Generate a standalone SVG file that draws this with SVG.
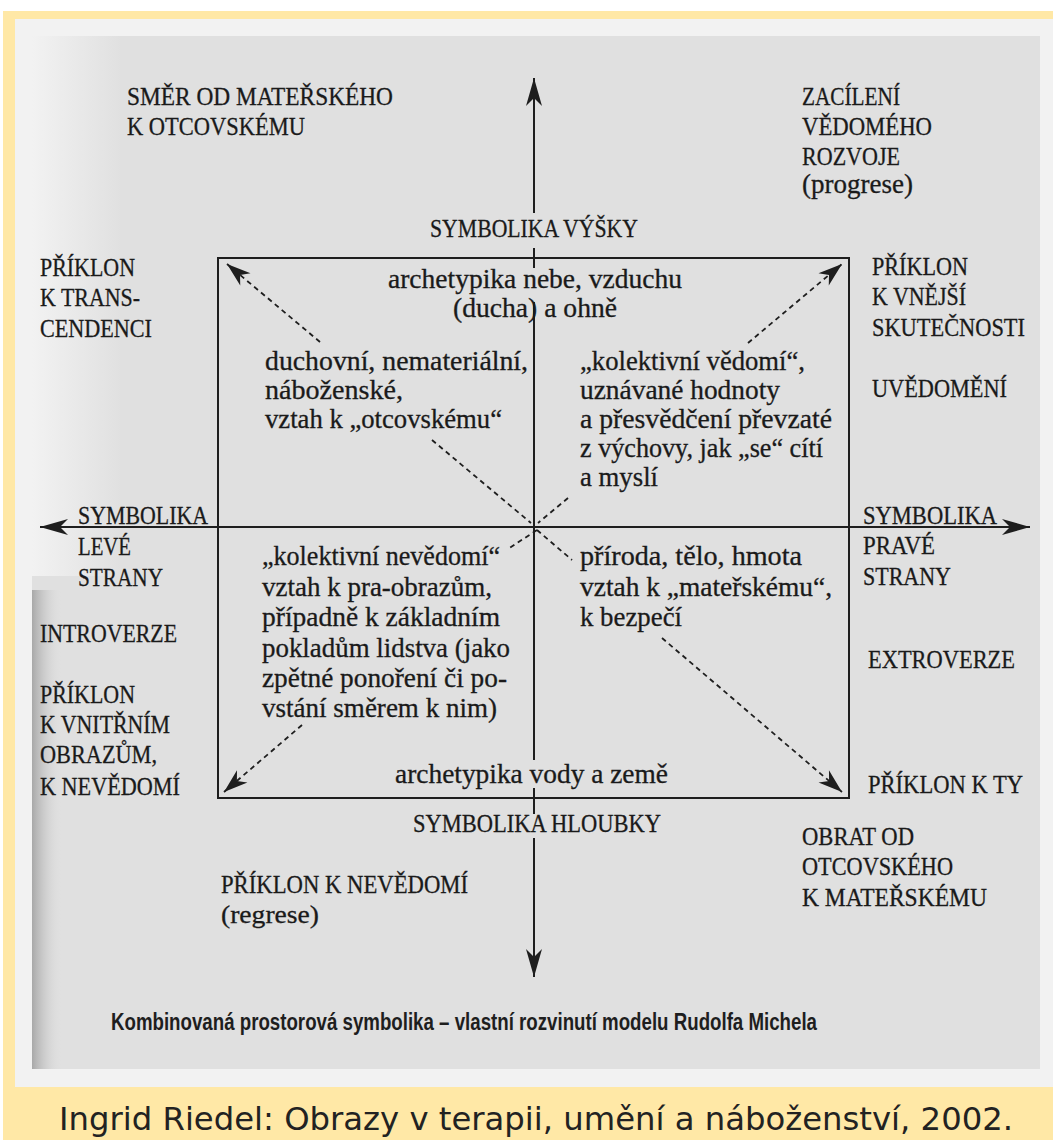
<svg xmlns="http://www.w3.org/2000/svg" width="1053" height="1140" viewBox="0 0 1053 1140">
<style>
.s{font-family:"Liberation Serif","DejaVu Serif",serif;fill:#1a1a1a;font-size:26px;stroke:#1a1a1a;stroke-width:0.3}
.l{font-size:27px}
.ax{stroke:#1e1e1e;stroke-width:2;fill:none}
.dg{stroke:#1e1e1e;stroke-width:1.8;fill:none;stroke-dasharray:5 4}
.box{stroke:#1e1e1e;stroke-width:2;fill:none}
</style>
<defs>
<marker id="ah" markerUnits="userSpaceOnUse" orient="auto" refX="0" refY="0" markerWidth="40" markerHeight="40" overflow="visible">
<path d="M0,0 L-28,-8 L-20,0 L-28,8 Z" fill="#1e1e1e"/>
</marker>
<marker id="dh" markerUnits="userSpaceOnUse" orient="auto" refX="0" refY="0" markerWidth="40" markerHeight="40" overflow="visible">
<path d="M0,0 L-24,-8 L-17,0 L-24,8 Z" fill="#1e1e1e"/>
</marker>
<linearGradient id="sh" x1="0" y1="0" x2="1" y2="0">
<stop offset="0" stop-color="#9a9a9a" stop-opacity="0.8"/>
<stop offset="1" stop-color="#e0e0e0" stop-opacity="0"/>
</linearGradient>
<linearGradient id="hl" x1="0" y1="0" x2="1" y2="0">
<stop offset="0" stop-color="#f4f4f4" stop-opacity="0.9"/>
<stop offset="1" stop-color="#f4f4f4" stop-opacity="0"/>
</linearGradient>
</defs>
<rect x="0" y="0" width="1053" height="1140" fill="#ffffff"/>
<rect x="3" y="11" width="1050" height="1129" fill="#FFE8A6"/>
<rect x="15" y="19" width="1038" height="1068" fill="#F2F2F2"/>
<rect x="32" y="36" width="1008" height="1033" fill="#E0E0E0"/>
<rect x="32" y="36" width="90" height="540" fill="url(#hl)"/>
<rect x="32" y="590" width="30" height="479" fill="url(#sh)"/>

<g id="connectors">
<line class="ax" x1="534" y1="213" x2="534" y2="78" marker-end="url(#ah)"/>
<line class="ax" x1="534" y1="248" x2="534" y2="268"/>
<line class="ax" x1="534" y1="302" x2="534" y2="760"/>
<line class="ax" x1="534" y1="788" x2="534" y2="814"/>
<line class="ax" x1="534" y1="838" x2="534" y2="977" marker-end="url(#ah)"/>
<line class="ax" x1="534" y1="527" x2="40" y2="527" marker-end="url(#ah)"/>
<line class="ax" x1="534" y1="527" x2="1030" y2="527" marker-end="url(#ah)"/>
<line class="dg" x1="320" y1="342" x2="227" y2="264" marker-end="url(#dh)"/>
<line class="dg" x1="432" y1="440" x2="531" y2="523"/>
<line class="dg" x1="748" y1="343" x2="842" y2="264" marker-end="url(#dh)"/>
<line class="dg" x1="568" y1="498" x2="538" y2="523"/>
<line class="dg" x1="302" y1="725" x2="224" y2="792" marker-end="url(#dh)"/>
<line class="dg" x1="537" y1="530" x2="508" y2="549"/>
<line class="dg" x1="662" y1="638" x2="842" y2="792" marker-end="url(#dh)"/>
<line class="dg" x1="537" y1="530" x2="572" y2="560"/>
</g>

<g id="box">
<rect class="box" x="218" y="258" width="631" height="540"/>
</g>

<g id="top-left">
<text class="s" x="127" y="105" textLength="266" lengthAdjust="spacingAndGlyphs">SMĚR OD MATEŘSKÉHO</text>
<text class="s" x="127" y="135" textLength="178" lengthAdjust="spacingAndGlyphs">K OTCOVSKÉMU</text>
</g>
<g id="top-right">
<text class="s" x="802" y="105" textLength="98" lengthAdjust="spacingAndGlyphs">ZACÍLENÍ</text>
<text class="s" x="802" y="135" textLength="130" lengthAdjust="spacingAndGlyphs">VĚDOMÉHO</text>
<text class="s" x="802" y="165" textLength="98" lengthAdjust="spacingAndGlyphs">ROZVOJE</text>
<text class="s l" x="802" y="193" textLength="111" lengthAdjust="spacingAndGlyphs">(progrese)</text>
</g>
<g id="top-axis-label">
<text class="s" x="430" y="237" textLength="208" lengthAdjust="spacingAndGlyphs">SYMBOLIKA VÝŠKY</text>
</g>
<g id="left-upper">
<text class="s" x="40" y="276" textLength="95" lengthAdjust="spacingAndGlyphs">PŘÍKLON</text>
<text class="s" x="40" y="306" textLength="100" lengthAdjust="spacingAndGlyphs">K TRANS-</text>
<text class="s" x="40" y="337" textLength="112" lengthAdjust="spacingAndGlyphs">CENDENCI</text>
</g>
<g id="right-upper">
<text class="s" x="872" y="275" textLength="96" lengthAdjust="spacingAndGlyphs">PŘÍKLON</text>
<text class="s" x="872" y="305" textLength="94" lengthAdjust="spacingAndGlyphs">K VNĚJŠÍ</text>
<text class="s" x="872" y="336" textLength="153" lengthAdjust="spacingAndGlyphs">SKUTEČNOSTI</text>
<text class="s" x="872" y="397" textLength="135" lengthAdjust="spacingAndGlyphs">UVĚDOMĚNÍ</text>
</g>
<g id="box-top">
<text class="s l" x="388" y="288" textLength="294" lengthAdjust="spacingAndGlyphs">archetypika nebe, vzduchu</text>
<text class="s l" x="453" y="317" textLength="164" lengthAdjust="spacingAndGlyphs">(ducha) a ohně</text>
</g>
<g id="q-upper-left">
<text class="s l" x="265" y="370" textLength="263" lengthAdjust="spacingAndGlyphs">duchovní, nemateriální,</text>
<text class="s l" x="265" y="399" textLength="138" lengthAdjust="spacingAndGlyphs">náboženské,</text>
<text class="s l" x="265" y="428" textLength="237" lengthAdjust="spacingAndGlyphs">vztah k „otcovskému“</text>
</g>
<g id="q-upper-right">
<text class="s l" x="580" y="370" textLength="225" lengthAdjust="spacingAndGlyphs">„kolektivní vědomí“,</text>
<text class="s l" x="580" y="399" textLength="200" lengthAdjust="spacingAndGlyphs">uznávané hodnoty</text>
<text class="s l" x="580" y="428" textLength="252" lengthAdjust="spacingAndGlyphs">a přesvědčení převzaté</text>
<text class="s l" x="580" y="457" textLength="243" lengthAdjust="spacingAndGlyphs">z výchovy, jak „se“ cítí</text>
<text class="s l" x="580" y="486" textLength="78" lengthAdjust="spacingAndGlyphs">a myslí</text>
</g>
<g id="left-axis-label">
<text class="s" x="78" y="524" textLength="130" lengthAdjust="spacingAndGlyphs">SYMBOLIKA</text>
<text class="s" x="78" y="555" textLength="53" lengthAdjust="spacingAndGlyphs">LEVÉ</text>
<text class="s" x="78" y="586" textLength="85" lengthAdjust="spacingAndGlyphs">STRANY</text>
</g>
<g id="left-lower">
<text class="s" x="40" y="642" textLength="137" lengthAdjust="spacingAndGlyphs">INTROVERZE</text>
<text class="s" x="40" y="703" textLength="95" lengthAdjust="spacingAndGlyphs">PŘÍKLON</text>
<text class="s" x="40" y="733" textLength="130" lengthAdjust="spacingAndGlyphs">K VNITŘNÍM</text>
<text class="s" x="40" y="763" textLength="117" lengthAdjust="spacingAndGlyphs">OBRAZŮM,</text>
<text class="s" x="40" y="795" textLength="140" lengthAdjust="spacingAndGlyphs">K NEVĚDOMÍ</text>
</g>
<g id="right-axis-label">
<text class="s" x="863" y="524" textLength="134" lengthAdjust="spacingAndGlyphs">SYMBOLIKA</text>
<text class="s" x="863" y="554" textLength="72" lengthAdjust="spacingAndGlyphs">PRAVÉ</text>
<text class="s" x="863" y="585" textLength="88" lengthAdjust="spacingAndGlyphs">STRANY</text>
</g>
<g id="right-lower">
<text class="s" x="868" y="668" textLength="147" lengthAdjust="spacingAndGlyphs">EXTROVERZE</text>
<text class="s" x="868" y="793" textLength="155" lengthAdjust="spacingAndGlyphs">PŘÍKLON K TY</text>
</g>
<g id="q-lower-left">
<text class="s l" x="262" y="565" textLength="238" lengthAdjust="spacingAndGlyphs">„kolektivní nevědomí“</text>
<text class="s l" x="262" y="596" textLength="230" lengthAdjust="spacingAndGlyphs">vztah k pra-obrazům,</text>
<text class="s l" x="262" y="626" textLength="238" lengthAdjust="spacingAndGlyphs">případně k základním</text>
<text class="s l" x="262" y="657" textLength="248" lengthAdjust="spacingAndGlyphs">pokladům lidstva (jako</text>
<text class="s l" x="262" y="687" textLength="245" lengthAdjust="spacingAndGlyphs">zpětné ponoření či po-</text>
<text class="s l" x="262" y="717" textLength="235" lengthAdjust="spacingAndGlyphs">vstání směrem k nim)</text>
</g>
<g id="q-lower-right">
<text class="s l" x="580" y="565" textLength="222" lengthAdjust="spacingAndGlyphs">příroda, tělo, hmota</text>
<text class="s l" x="580" y="596" textLength="252" lengthAdjust="spacingAndGlyphs">vztah k „mateřskému“,</text>
<text class="s l" x="580" y="626" textLength="102" lengthAdjust="spacingAndGlyphs">k bezpečí</text>
</g>
<g id="box-bottom">
<text class="s l" x="395" y="783" textLength="273" lengthAdjust="spacingAndGlyphs">archetypika vody a země</text>
</g>
<g id="bottom-axis-label">
<text class="s" x="413" y="832" textLength="248" lengthAdjust="spacingAndGlyphs">SYMBOLIKA HLOUBKY</text>
</g>
<g id="bottom-right">
<text class="s" x="802" y="845" textLength="112" lengthAdjust="spacingAndGlyphs">OBRAT OD</text>
<text class="s" x="802" y="875" textLength="151" lengthAdjust="spacingAndGlyphs">OTCOVSKÉHO</text>
<text class="s" x="802" y="906" textLength="185" lengthAdjust="spacingAndGlyphs">K MATEŘSKÉMU</text>
</g>
<g id="bottom-left">
<text class="s" x="221" y="893" textLength="247" lengthAdjust="spacingAndGlyphs">PŘÍKLON K NEVĚDOMÍ</text>
<text class="s" x="221" y="923" textLength="98" lengthAdjust="spacingAndGlyphs">(regrese)</text>
</g>
<g id="figure-caption">
<text x="111" y="1030" font-family="Liberation Sans, Arial, sans-serif" font-weight="bold" font-size="23" fill="#1e1e1e" textLength="706" lengthAdjust="spacingAndGlyphs">Kombinovaná prostorová symbolika – vlastní rozvinutí modelu Rudolfa Michela</text>
</g>
<g id="source">
<text x="59" y="1130" font-family="DejaVu Sans, Verdana, sans-serif" font-size="32" fill="#222222" textLength="954" lengthAdjust="spacingAndGlyphs">Ingrid Riedel: Obrazy v terapii, umění a náboženství, 2002.</text>
</g>
</svg>
